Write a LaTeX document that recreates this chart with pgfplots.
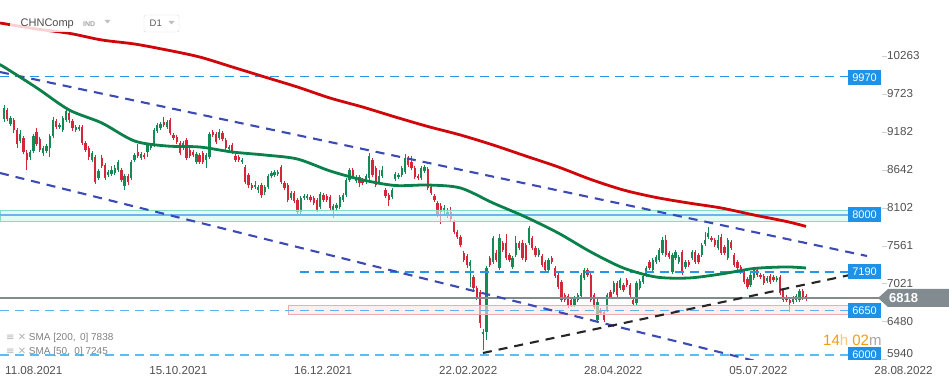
\documentclass[border=0pt]{standalone}
\usepackage{pgfplots}
\pgfplotsset{compat=1.18}
\usepackage{pgfplotstable}
\usepackage{fontspec}
\setmainfont{Liberation Sans}
\newfontfamily\symfont{DejaVu Sans}
\definecolor{cgreen}{RGB}{22,138,84}
\definecolor{cred}{RGB}{214,38,58}
\definecolor{smared}{RGB}{208,6,10}
\definecolor{smagreen}{RGB}{10,128,74}
\definecolor{chan}{RGB}{60,74,180}
\definecolor{lvl}{RGB}{40,150,232}
\definecolor{lvllight}{RGB}{90,190,240}
\definecolor{boxblue}{RGB}{28,146,232}
\definecolor{curgray}{RGB}{130,140,144}
\definecolor{txtgray}{RGB}{80,80,80}
\definecolor{mint}{RGB}{214,245,234}
\definecolor{mintb}{RGB}{130,222,190}
\definecolor{pinkf}{RGB}{253,228,228}
\definecolor{pinkb}{RGB}{242,170,170}
\definecolor{orng}{RGB}{243,156,18}

\pgfplotstableread{
x o h l c
0 9367 9566 9324 9523
2 9296 9409 9267 9381
5 9054 9210 9025 9153
8 8826 8926 8783 8897
9 8911 9153 8883 9125
12 8883 8982 8840 8954
13 8911 9011 8883 8982
14 8954 9153 8826 9125
15 9125 9395 9096 9352
17 9253 9310 9224 9281
18 9210 9409 9182 9381
19 9352 9509 9324 9481
22 9210 9281 9182 9253
23 9224 9281 9196 9253
27 8783 8911 8755 8883
29 8527 8655 8499 8627
32 8570 8641 8541 8612
33 8584 8698 8555 8641
34 8598 8712 8570 8669
35 8641 8783 8612 8755
37 8413 8584 8356 8555
39 8527 8783 8499 8755
40 8783 8883 8755 8854
42 8812 8897 8783 8869
44 8897 9025 8826 8997
45 8954 9025 8926 8997
46 8997 9239 8968 9210
47 9196 9310 9167 9281
48 9239 9324 9210 9296
50 9253 9352 9224 9324
55 8954 9054 8926 9025
59 8755 8897 8726 8869
62 8783 8883 8669 8854
63 8826 9182 8797 9153
66 9096 9224 9068 9182
69 8940 8997 8911 8968
73 8755 8812 8726 8783
77 8399 8484 8371 8427
78 8356 8427 8314 8399
80 8328 8427 8285 8399
81 8399 8584 8371 8555
82 8555 8627 8527 8598
83 8570 8641 8541 8612
84 8584 8641 8555 8612
88 8242 8342 8214 8314
91 8043 8271 8015 8242
92 8242 8299 8214 8271
93 8242 8299 8214 8271
97 8114 8328 8086 8299
101 8057 8157 7958 8129
102 8100 8171 8072 8143
103 8114 8285 8086 8257
104 8214 8314 8185 8285
105 8285 8527 8257 8499
106 8499 8669 8470 8641
108 8484 8570 8456 8541
111 8470 8584 8442 8555
112 8527 8883 8499 8840
115 8470 8641 8442 8555
116 8555 8698 8527 8641
119 8257 8385 8228 8356
120 8513 8612 8484 8584
121 8541 8598 8513 8570
122 8570 8698 8541 8669
123 8612 8869 8584 8812
128 8527 8698 8499 8669
129 8627 8712 8598 8684
135 8072 8143 8001 8100
136 8015 8100 7958 8043
143 7275 7360 6976 7332
147 6307 6378 6080 6336
148 6336 7275 6222 7246
150 7332 7702 7303 7673
152 7246 7730 7218 7673
156 7261 7417 7232 7389
157 7431 7702 7403 7602
161 7602 7844 7574 7816
164 7431 7531 7403 7503
167 7218 7389 7189 7360
175 6720 6848 6691 6819
176 6791 6891 6763 6862
177 6848 7175 6819 7147
178 7104 7246 7076 7218
182 6506 6834 6464 6763
185 6649 6891 6620 6862
187 6905 7061 6876 7033
189 6962 7104 6933 7076
194 6748 7061 6720 7033
195 6962 7090 6933 7061
196 7047 7161 7019 7133
197 7147 7275 7118 7246
199 7218 7389 7189 7360
200 7332 7431 7303 7403
201 7360 7531 7332 7503
202 7460 7687 7431 7645
205 7189 7460 7161 7431
206 7389 7503 7360 7474
207 7332 7431 7303 7403
209 7261 7360 7232 7332
211 7389 7503 7360 7474
214 7431 7602 7403 7574
215 7588 7759 7559 7645
216 7687 7830 7659 7744
219 7531 7716 7503 7645
222 7389 7673 7360 7645
229 7004 7175 6976 7147
230 7104 7246 7076 7218
234 7061 7133 7033 7104
237 7076 7133 7047 7104
242 6763 6848 6734 6819
243 6791 6876 6763 6848
244 6791 6947 6763 6919
}\up

\pgfplotstableread{
x o h l c
1 9495 9523 9338 9367
3 9352 9381 9167 9210
4 9210 9239 8954 9011
6 9096 9125 8869 8897
7 8883 8926 8641 8783
10 9182 9239 8982 9011
11 9082 9111 8897 8926
16 9338 9367 9224 9253
20 9452 9481 9310 9352
21 9338 9367 9196 9239
24 9253 9281 8997 9025
25 9025 9054 8897 8926
26 8954 8982 8783 8826
28 8826 8854 8442 8470
30 8812 8854 8669 8698
31 8712 8741 8499 8527
36 8641 8669 8470 8499
38 8555 8584 8427 8470
41 8897 9011 8812 8840
43 8854 8883 8797 8826
49 9324 9395 9253 9281
51 9352 9381 9139 9167
52 9139 9167 9068 9096
53 9111 9139 9011 9039
54 9025 9054 8854 8883
56 9068 9096 8783 8812
57 8926 8954 8812 8840
58 8897 8926 8826 8854
60 8854 8883 8726 8755
61 8883 8911 8726 8755
64 9182 9210 9111 9139
65 9153 9182 9011 9039
67 9167 9196 9054 9082
68 9068 9096 8926 8954
70 8997 9025 8869 8897
71 8840 8869 8755 8783
72 8826 8854 8755 8783
74 8684 8712 8442 8470
75 8570 8598 8385 8427
76 8427 8456 8356 8385
79 8427 8456 8242 8285
85 8684 8712 8442 8470
86 8456 8484 8356 8385
87 8427 8456 8185 8214
89 8314 8342 8171 8200
90 8214 8242 8015 8043
94 8257 8285 8185 8214
95 8242 8271 8143 8171
96 8214 8242 8043 8072
98 8285 8314 8185 8214
99 8271 8299 8185 8214
100 8257 8285 8072 8100
107 8641 8669 8513 8541
109 8541 8570 8399 8456
110 8499 8527 8427 8456
113 8783 8812 8541 8570
114 8669 8698 8399 8427
117 8356 8385 8242 8271
118 8285 8314 8129 8214
124 8812 8840 8684 8712
125 8755 8840 8641 8669
126 8669 8698 8513 8541
127 8555 8584 8499 8527
130 8655 8684 8356 8385
131 8399 8427 8285 8314
132 8271 8299 8185 8214
133 8171 8200 7972 8001
134 8129 8171 7872 8043
137 8043 8114 7915 7944
138 7901 7929 7730 7759
139 7759 7787 7659 7687
140 7687 7716 7545 7574
141 7460 7488 7332 7360
142 7417 7446 7246 7289
144 7118 7147 6933 6962
145 6962 6990 6791 6819
146 6905 6933 6393 6464
149 7389 7417 7261 7289
151 7460 7503 7332 7360
153 7602 7630 7474 7503
154 7602 7730 7360 7389
155 7431 7460 7332 7360
158 7602 7630 7503 7531
159 7602 7645 7360 7389
160 7574 7602 7332 7360
162 7673 7702 7503 7531
163 7531 7559 7403 7431
165 7417 7446 7261 7289
166 7332 7360 7189 7218
168 7389 7417 7303 7332
169 7246 7275 7104 7133
170 7147 7175 6947 6976
171 7047 7076 6763 6791
172 6862 6891 6763 6791
173 6848 6876 6677 6720
174 6791 6819 6691 6720
179 7218 7246 7118 7147
180 7147 7175 6763 6791
181 6862 6891 6663 6691
183 6649 6677 6578 6606
184 6620 6649 6478 6506
186 6905 6933 6805 6834
188 7033 7061 6834 6862
190 7004 7033 6905 6933
191 7076 7104 6976 7004
192 7004 7033 6834 6862
193 6791 6819 6706 6734
198 7332 7360 7218 7246
203 7645 7716 7403 7431
204 7460 7488 7374 7403
208 7474 7503 7147 7175
210 7332 7360 7261 7289
212 7474 7503 7303 7332
213 7431 7460 7303 7332
217 7673 7702 7616 7645
218 7645 7673 7545 7574
220 7687 7730 7431 7460
221 7545 7574 7431 7460
223 7616 7645 7503 7531
224 7431 7460 7261 7289
225 7332 7360 7218 7246
226 7261 7289 7161 7189
227 7189 7218 7019 7047
228 7090 7118 6947 6976
231 7218 7246 7118 7147
232 7147 7175 7090 7118
233 7133 7161 7004 7033
235 7133 7161 7019 7047
236 7118 7147 7047 7076
238 7118 7147 6862 6891
239 6933 6962 6763 6791
240 6834 6862 6763 6791
241 6791 6819 6620 6748
245 6919 6947 6791 6819
246 6848 6876 6777 6819
}\down

\begin{document}
\begin{tikzpicture}
\useasboundingbox (0pt,0pt) rectangle (949pt,385pt);
\begin{axis}[
  at={(0pt,385pt)}, anchor=north west,
  scale only axis, width=882pt, height=360pt,
  xmin=-1.23, xmax=269.3, ymin=5937, ymax=11060,
  axis line style={draw=none},
  scaled x ticks=false, scaled y ticks=false,
  xtick={0,44.2,88.6,133.1,177.6,222.1,266.6},
  xticklabels={11.08.2021,15.10.2021,16.12.2021,22.02.2022,28.04.2022,05.07.2022,28.08.2022},
  xtick style={draw=none},
  xticklabel style={anchor=north west, inner sep=0pt, xshift=1pt, yshift=-1pt, font=\fontsize{11.6}{12}\selectfont, text=txtgray},
  ytick={10263,9723,9182,8642,8102,7561,7021,6480},
  yticklabels={10263,9723,9182,8642,8102,7561,7021,6480},
  extra y ticks={5940}, extra y tick labels={5940},
  extra y tick style={yticklabel style={yshift=6pt}},
  ytick pos=right, yticklabel pos=right,
  tick align=outside, major tick length=5pt,
  ytick style={draw=black!18, line width=0.7pt},
  yticklabel style={anchor=west, inner sep=0pt, font=\fontsize{11.6}{12}\selectfont, text=txtgray},
  clip=true,
]
% candles: wicks
\addplot[draw=none, forget plot, error bars/.cd, y dir=plus, y explicit, error mark=none,
  error bar style={draw=cgreen, line width=0.8pt}]
  table[x=x, y=l, y error expr=\thisrow{h}-\thisrow{l}] {\up};
\addplot[draw=none, forget plot, error bars/.cd, y dir=plus, y explicit, error mark=none,
  error bar style={draw=cred, line width=0.8pt}]
  table[x=x, y=l, y error expr=\thisrow{h}-\thisrow{l}] {\down};
% candles: bodies
\addplot[draw=none, forget plot, error bars/.cd, y dir=plus, y explicit, error mark=none,
  error bar style={draw=cgreen, line width=2.3pt}]
  table[x=x, y=o, y error expr=\thisrow{c}-\thisrow{o}] {\up};
\addplot[draw=none, forget plot, error bars/.cd, y dir=plus, y explicit, error mark=none,
  error bar style={draw=cred, line width=2.3pt}]
  table[x=x, y=c, y error expr=\thisrow{o}-\thisrow{c}] {\down};
% support / resistance zones
\addplot[draw=mintb, line width=0.9pt, fill=mint, fill opacity=0.6] coordinates {(-1.23,7915) (258.9,7915) (258.9,8072) (-1.23,8072) (-1.23,7915)};
\addplot[draw=lvl!70, line width=1.1pt] coordinates {(-1.23,8001) (258.9,8001)};
\addplot[draw=pinkb, line width=0.9pt, fill=pinkf, fill opacity=0.6] coordinates {(87.1,6587) (258.9,6587) (258.9,6710) (87.1,6710) (87.1,6587)};
\addplot[draw=lvl!75, line width=1.1pt, dash pattern=on 9pt off 6pt] coordinates {(-1.23,6645) (258.9,6645)};
\addplot[draw=lvl, line width=1.1pt, dash pattern=on 9pt off 6pt] coordinates {(-1.23,9970) (258.9,9970)};
\addplot[draw=lvl, line width=1.2pt, dash pattern=on 9pt off 6pt] coordinates {(90.8,7190) (258.9,7190)};
\addplot[draw=lvllight, line width=1.3pt, dash pattern=on 9pt off 6pt] coordinates {(-1.23,6008) (258.9,6008)};
% current price
\addplot[draw=curgray, line width=1.1pt] coordinates {(-1.23,6819) (269.3,6819)};
% trend lines
\addplot[draw=chan, line width=2.1pt, dash pattern=on 9pt off 7pt] coordinates {(-1.23,10035) (264.7,7417)};
\addplot[draw=chan, line width=2.1pt, dash pattern=on 9pt off 7pt] coordinates {(-1.23,8598) (230.4,5923)};
\addplot[draw=black!85, line width=2.1pt, dash pattern=on 9pt off 7pt] coordinates {(146.9,6037) (259.5,7147)};
% moving averages
\addplot[draw=smagreen, line width=2.8pt, smooth] coordinates {
(-1.2,10135) (0,10107) (10,9811) (20,9495) (30,9310) (40,9054) (50,8982) (60,8968) (70,8897) (80,8854) (90,8797) (100,8627) (110,8499) (120,8420) (130,8427) (140,8385) (150,8171) (160,7972) (170,7744) (180,7474) (190,7246) (200,7118) (210,7104) (220,7161) (230,7239) (240,7261) (246,7246)};
\addplot[draw=smared, line width=2.8pt, smooth] coordinates {
(-1.2,10733) (10,10647) (20,10586) (30,10491) (40,10434) (50,10348) (60,10249) (70,10107) (80,9964) (90,9822) (100,9665) (110,9537) (120,9395) (130,9260) (140,9139) (150,8997) (160,8840) (170,8684) (180,8506) (190,8356) (200,8250) (210,8171) (220,8100) (230,8001) (240,7908) (246,7838)};
\end{axis}

% level labels
\tikzset{lbl/.style={fill=boxblue, text=white, minimum width=33pt, minimum height=15pt, inner sep=0pt, font=\fontsize{11}{11}\selectfont}}
\node[lbl] at (864.5pt,307pt) {9970};
\node[lbl] at (864.5pt,170pt) {8000};
\node[lbl] at (864.5pt,113pt) {7190};
\node[lbl] at (864.5pt,74pt) {6650};
\begin{scope}
\clip (840pt,25pt) rectangle (890pt,40pt);
\node[lbl] at (864.5pt,30pt) {6000};
\end{scope}
% current price tag
\fill[curgray] (878pt,87pt) -- (888pt,96pt) -- (949pt,96pt) -- (949pt,78pt) -- (888pt,78pt) -- cycle;
\node[anchor=west, text=white, inner sep=0pt, font=\bfseries\fontsize{13}{13}\selectfont] at (889pt,87pt) {6818};
% countdown
\node[anchor=west, inner sep=0pt, font=\fontsize{15}{15}\selectfont] at (823pt,44.5pt)
  {\textcolor{orng}{14}\textcolor{orng!55}{h} \textcolor{orng}{02}\textcolor{black!35}{m}};
% indicator legend
\node[anchor=west, inner sep=0pt, text=black!50, font=\fontsize{10}{10}\selectfont] at (6pt,47pt)
  {{\symfont\textcolor{black!30}{≡ ✕}} SMA [200,\, 0] 7838};
\node[anchor=west, inner sep=0pt, text=black!50, font=\fontsize{10}{10}\selectfont] at (6pt,33pt)
  {{\symfont\textcolor{black!30}{≡ ✕}} SMA [50,\, 0] 7245};
% instrument header
\fill[white, opacity=0.82] (10pt,377pt) rectangle (190pt,352.5pt);
\node[anchor=base west, inner sep=0pt, text=black!70, font=\fontsize{11}{11}\selectfont] at (20.5pt,358pt) {CHNComp};
\node[anchor=base west, inner sep=0pt, text=black!35, font=\bfseries\fontsize{7}{7}\selectfont] at (83pt,358pt) {IND};
\fill[black!25] (104.5pt,365pt) -- (110.5pt,365pt) -- (107.5pt,361.5pt) -- cycle;
\draw[black!15, rounded corners=2pt] (144pt,370pt) rectangle (179pt,353pt);
\node[anchor=base west, inner sep=0pt, text=black!65, font=\fontsize{9.5}{9.5}\selectfont] at (149.5pt,358pt) {D1};
\fill[black!25] (168.5pt,364pt) -- (174.5pt,364pt) -- (171.5pt,360.5pt) -- cycle;
\end{tikzpicture}
\end{document}
